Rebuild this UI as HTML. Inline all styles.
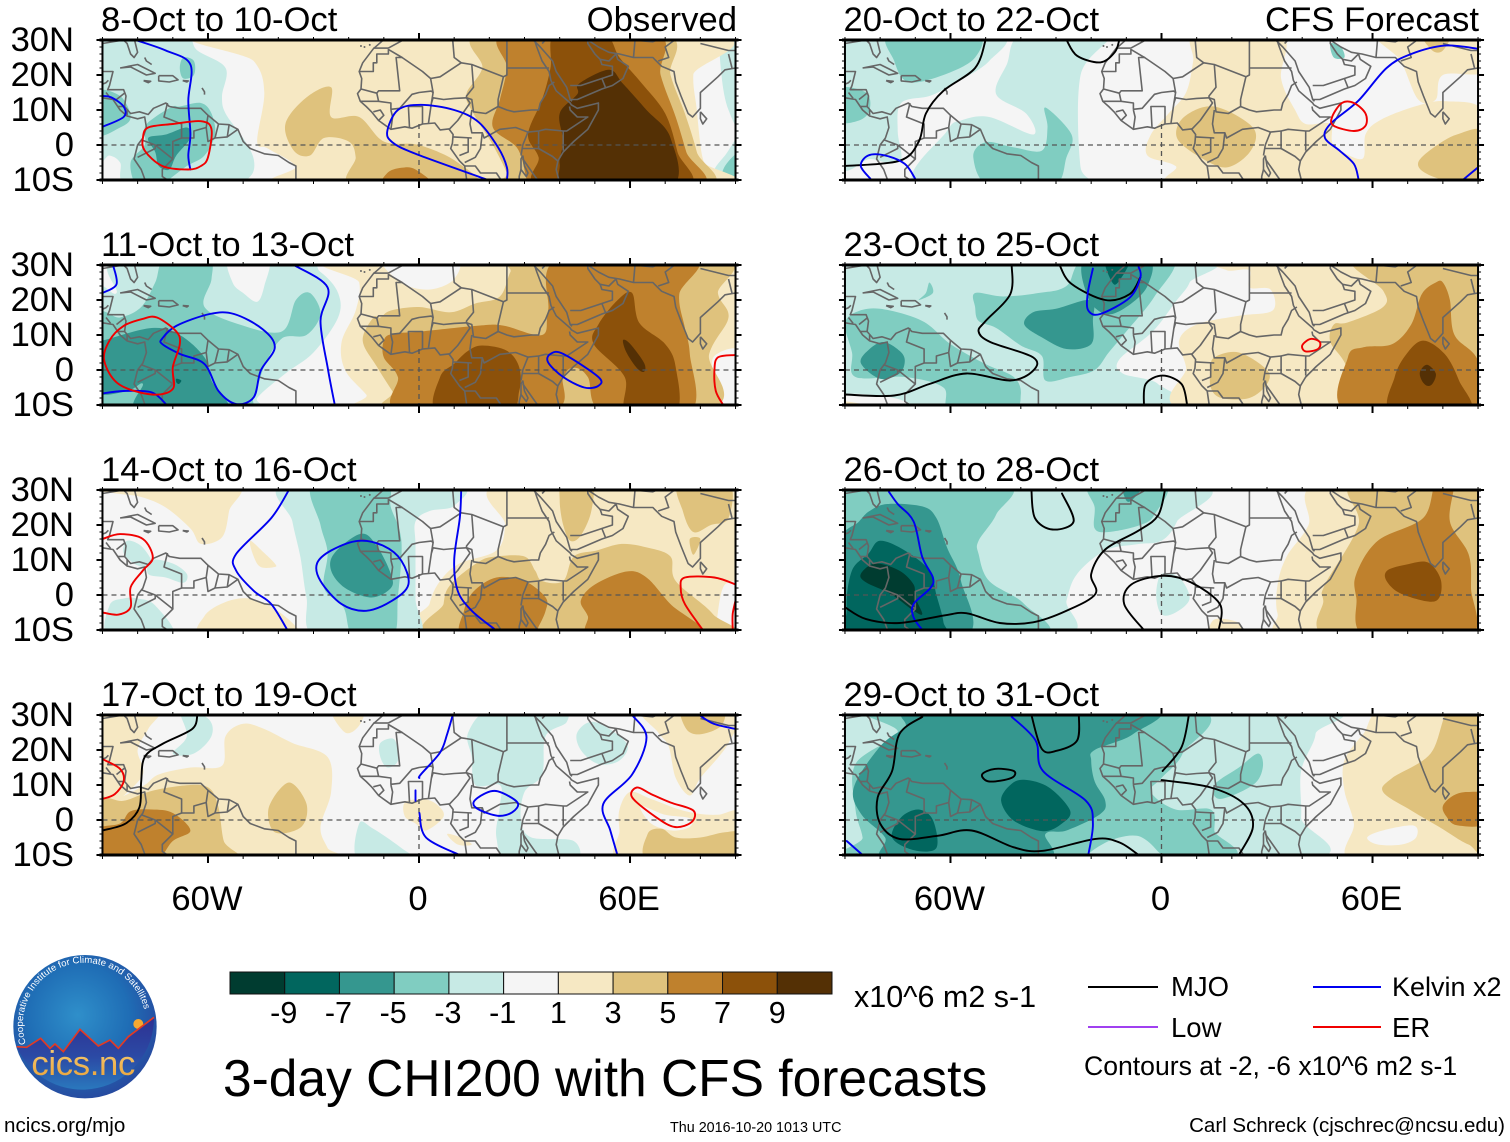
<!DOCTYPE html>
<html lang="en">
<head>
<meta charset="utf-8">
<title>3-day CHI200 with CFS forecasts</title>
<style>
html,body{margin:0;padding:0;background:#fff}
#chart{display:block;width:1510px;height:1142px}
text{font-family:"Liberation Sans",sans-serif;fill:#000}
</style>
</head>
<body>
<svg id="chart" xmlns="http://www.w3.org/2000/svg" width="1510" height="1142" viewBox="0 0 1510 1142">
<defs>
<radialGradient id="logoSky" cx="0.45" cy="0.42" r="0.6"><stop offset="0" stop-color="#2f8fca"/><stop offset="0.6" stop-color="#1f6db5"/><stop offset="1" stop-color="#27499f"/></radialGradient>
<linearGradient id="logoGold" x1="0" y1="0" x2="0" y2="1"><stop offset="0" stop-color="#f6cf78"/><stop offset="1" stop-color="#e89f35"/></linearGradient>
<linearGradient id="logoSea" x1="0" y1="0" x2="0" y2="1"><stop offset="0" stop-color="#2e3192"/><stop offset="0.55" stop-color="#2b4aa5"/><stop offset="1" stop-color="#2a78bd"/></linearGradient>
<path id="logoArc" d="M 78 312 A 185 185 0 1 1 437 230"/>
</defs>
<g id="panels"></g>
<g id="colorbar"></g>
<text x="854" y="1007" font-size="30.5">x10^6 m2 s-1</text>
<text x="223" y="1096" font-size="51.5">3-day CHI200 with CFS forecasts</text>
<g>
<line x1="1088" x2="1158" y1="987" y2="987" stroke="#000" stroke-width="2"/>
<text x="1171" y="996" font-size="27.5">MJO</text>
<line x1="1313" x2="1381" y1="987" y2="987" stroke="#0000f0" stroke-width="2"/>
<text x="1392" y="996" font-size="27">Kelvin x2</text>
<line x1="1088" x2="1158" y1="1027" y2="1027" stroke="#a040f0" stroke-width="2"/>
<text x="1171" y="1037" font-size="27.5">Low</text>
<line x1="1313" x2="1381" y1="1027" y2="1027" stroke="#f00000" stroke-width="2"/>
<text x="1392" y="1037" font-size="27.5">ER</text>
<text x="1084" y="1075" font-size="26.6">Contours at -2, -6 x10^6 m2 s-1</text>
</g>
<text x="4" y="1132" font-size="20.6">ncics.org/mjo</text>
<text x="670" y="1132" font-size="14.35">Thu 2016-10-20 1013 UTC</text>
<text x="1505" y="1132" font-size="20.5" text-anchor="end">Carl Schreck (cjschrec@ncsu.edu)</text>
<g transform="translate(0,940) scale(0.3333)">
<circle cx="255" cy="260" r="215" fill="url(#logoSky)"/>
<circle cx="415" cy="252" r="15" fill="#f7a830"/>
<path d="M50 320L80 322L122 295L150 325L165 312L190 335L240 268L295 318L330 300L355 325L385 290L462 232A215 215 0 0 1 50 320Z" fill="url(#logoSea)" stroke="none"/>
<path d="M50 320L80 322L122 295L150 325L165 312L190 335L240 268L295 318L330 300L355 325L385 290L462 232" fill="none" stroke="#e23a24" stroke-width="5"/>
<text x="94" y="405" font-size="104" style="fill:url(#logoGold)" textLength="312">cics.nc</text>
<text font-size="28" style="fill:#fff"><textPath href="#logoArc" textLength="595" lengthAdjust="spacingAndGlyphs">Cooperative Institute for Climate and Satellites</textPath></text>
</g>
</svg>
<script>
/* ---------- shared scale ---------- */
const levelValues = [-10, -8, -6, -4, -2, 0, 2, 4, 6, 8, 10];
const levelColors = ['#003c30', '#01665e', '#35978f', '#80cdc1', '#c7eae5', '#f5f5f5', '#f6e8c3', '#dfc27d', '#bf812d', '#8c510a', '#543005'];
const colorbarTicks = [-9, -7, -5, -3, -1, 1, 3, 5, 7, 9];
const latTickLabels = ['30N', '20N', '10N', '0', '10S'];
const latTicks = [30, 20, 10, 0, -10];
const lonTickLabels = ['60W', '0', '60E'];
const lonTicks = [-60, 0, 60];
const panelTitles = ['8-Oct to 10-Oct', '11-Oct to 13-Oct', '14-Oct to 16-Oct', '17-Oct to 19-Oct', '20-Oct to 22-Oct', '23-Oct to 25-Oct', '26-Oct to 28-Oct', '29-Oct to 31-Oct'];
const waveColors = {M: '#000000', K: '#0000f0', E: '#f00000'};

/* ---------- map outlines: flat lon,lat lists ---------- */
const mapLines = [
[-97,28,-94,29.5,-90,29,-84,30,-83,29,-82,26,-81,25,-80,26.5,-81,30.5],
[-97,28,-97.5,22,-95,18.5,-91,18.5,-90,21,-87,21,-88,17,-88.5,15.8,-84,15.8,-83.3,14,-83.7,11,-82,9,-79.5,9.5,-77,8.7,-75.5,10.5,-72,12,-71,11,-68,10.5,-64,10.5,-62,10.5,-60,8.5,-57,6,-54,5.8,-51.5,4.5,-50,1,-48,-1,-44,-2.5,-40,-3,-37,-5,-35,-6,-35,-11],
[-95,16,-92,14.5,-90,13.5,-87,13,-85,10,-83,8.3,-80,7.5,-78,8,-77.5,5,-78.5,2,-80,0,-81,-4,-79,-7,-77.5,-11],
[-85,22,-80,23,-75,20.5,-77.5,20,-82,22.3,-85,22],
[-74,19.8,-70,19.8,-68.5,18.6,-71,18,-74,18.3,-74,19.8],
[-78.3,18.4,-76.3,18.2,-77,17.8,-78.3,18.4],
[-67.2,18.4,-65.6,18.3,-66,18,-67.2,18.4],
[-61.7,16.3,-61,15.2,-61,14.4],
[-78,25,-77.5,24,-76,23],
[-92,14.5,-91,17,-89,17.8,-88.3,18.5],
[-89,15,-87.7,13.3],[-83.5,15,-86,13],[-83.7,11,-85.7,11],[-83,8.5,-83,10],
[-71.5,12,-72.5,8,-67.5,6,-67.5,2,-70,1,-70,-4],
[-60,8.5,-60.5,5,-64,4,-64,2,-67.5,2],
[-60.5,5,-60,1,-58,2,-54.5,2.3,-51.5,4.5],[-57,6,-58,2],[-54,5.8,-54.5,2.3],
[-79,1.5,-75,0,-70,-4,-73,-7,-73,-9,-70,-11],[-80,-3.5,-75,-1,-75,0],
[-9,31,-13,27.5,-16,23.5,-17,21,-16.3,19,-16.5,16,-17.5,14.7,-16.7,12.5,-15,11,-13.5,9.5,-11.5,7,-8,4.5,-4,5.2,-2,4.8,1,6,4.5,6.3,6,4.3,8.5,4.6,9.7,3,9.5,0.5,9,-1,11.5,-4.5,13,-6,13.7,-11],
[32.5,31,33.5,28,35,24,37,21,37.5,18.5,39,15.5,43,12,43.3,11.5,45,10.5,51,12,51,10,48,4.5,44,1,41,-2,39.5,-4.5,39,-7,40,-11],
[32.5,30,34.5,28,38,24,39,21,42,16.5,43,13,45,13,52,16,55,17,58,19,59.5,22.5,56.5,24.5,56,26,54,24,51.5,24.5,50,26,48,29,48,31],
[48,30,51,28,54,26.5,57,26,61,25,66.5,25,67,24.5,69,22.5,72.5,21,73,18,74.5,14,76.5,9,77.8,8,80,10.5,80,15,85,19.5,87,21.5,90,22,92,21,94,18,94.5,16,97,16.5],
[80,9.5,81.8,7.5,80.7,6,80,7.5,80,9.5],
[29.5,-3,30,-6,31,-8,30.5,-9,29,-7,29,-4,29.5,-3],
[-13,27.7,-8.7,27.7],[-8.7,27.7,-3.6,30.5],
[-17,21,-13,21,-13,23.5,-12,23.5,-12,26,-8.7,26,-8.7,27.3,-4.8,25,-6.5,25,-5.5,15.5,-11.5,15.5,-12,14.8,-16.5,16],
[-4.8,25,1,21,3.3,19,4,15,3.5,15.4,0,15,-2,14.5,-5.5,10.5,-8,10.2,-8,12,-11.5,12.5,-12,14.8],
[3.3,19,6,19.5,12,23.5,10,25,9.5,31],[12,23.5,15,23,24,19.5,25,20,25,31],[25,22,37,22],
[15,23,15.5,16.5,13.5,14,13.5,13.5],[4,15,3.5,11.8,4,13.5,7,13,10,13.3,13.5,13.5],
[24,19.5,22.5,13,22.5,11,19,9,15.5,9.5,15,13,13.5,13.5],
[13.5,13.5,14.5,12,11,7,8.7,4.6],
[1,6,1,11,-0,11,-3,11,-2.7,5],[2.7,6.3,3.5,11.8],[-8,4.5,-7.5,8,-8,10],
[-11.5,7,-10,8.5,-11,10,-13,9.5],[-16.7,12.5,-13.5,12.5,-11.5,12.5],
[15,10,14.5,6,15,3.5,18,3.5,18.5,2,23,4.5,27.5,5,31,3.7,34,4],
[9.7,2.3,15,2],[14,2,14,-2,11.5,-3],
[22.5,11,25,10,27,9.5,32,10,34,10,34.5,12,36,14.5,37,17,38.5,18],
[18,3.5,17.5,-1,16,-3.5,13,-5],
[34,4,36,4.5,41,4,42,4,48,8,45,8,43,10,42.8,11],
[34,4,34,1,34,-1,38,-3.3,39.5,-4.6],[41,4,41,-1.6],
[31,3.7,29.5,0,29,-3],[29,-7,28.5,-9,28.5,-11],[34,-1,30,-1,29.5,-1],
[13,-6,16,-6,17.5,-8,22,-8,24,-11],[29.5,-4,33,-9,34.5,-11],
[43,17,46,17,52,19,55,20,55,22.5,52,23,51.5,24.5],[52,19,53,16.5],[35,29,37,31],[43,13,43.5,12.5],
[61.5,31,61,25],[61,30,66.5,29.5,70,31],[68,24,71,25,70,28,74,31],
[80,29,88,27,92,27],[88,26,89,22],[92,25,92,21],[94,18,94,24,97,28],[48,30,47,31]
];
const canaryIslands = [-16.5,28.3,-15.5,28,-14,28.6];

/* ---------- panel 1: 8-Oct to 10-Oct ---------- */
const panel1Shading = [
[-2,[-68,32,-63,27,-55,22,-56,14,-55,9,-50,2,-47,-4,-48,-9,-55,-12,-82,-12,-85,-5,-88,-3,-92,-3,-92,32]],
[-2,[92,32,86,31,86,20,88,10,92,5]],
[-2,[92,3,87,-3,84,-7,83,-12,92,-12]],
[-4,[92,-2,87,-6,86,-12,92,-12]],
[-4,[-92,15,-85,14,-82,8,-85,5,-92,3]],
[-4,[-68,11,-62,12,-59,9,-58,3,-61,-3,-66,-6,-70,-9,-74,-12,-80,-12,-82,-5,-78,0,-78,5,-75,8,-70,11]],
[-4,[-67,25,-64,24,-64,20,-67,19,-68,22]],
[-6,[-77,2,-72,3,-66,5,-65,2,-69,-3,-71,-7,-74,-6,-75,-2]],
[2,[-58,32,-47,24,-44,15,-46,1,-43,-1,-35,-6,-34,-12,83,-12,81,-5,80,0,79,10,78,20,80,32]],
[4,[-25,16.5,-25,8,-17,8,-10,1,0,0,11,-5,15.5,-12,-18.5,-12,-18,-3.5,-20,1,-27,2,-31,-3,-35.6,-1.6,-38,6,-32,13.6]],
[6,[-10,-12,-9,-8,-5,-6.5,-1,-7,4,-12]],
[4,[18,32,18,22,13.5,14.6,15.5,9,21,0,25,-8,26,-12,81,-12,79,-2,75.6,9,71.5,20,69,32]],
[6,[25,32,25,22,23,13,21,5,28,-1,30.5,-9.5,31,-12,79,-12,76,-2,73,8,68.7,20,66.7,32]],
[8,[38.7,32,37.4,22,35,13,31,3,34,-3.5,35,-12,75.5,-12,73.5,-2,70,9,63,18,57,25,52.4,32]],
[10,[54,21.5,45.5,17.5,45,14.5,40,9,41,1,40,-5.5,43,-12,71.5,-12,71.5,2,64.7,10,58,17.5]]
];
const panel1Contours = [
['K',[-80.6,30,-72,27,-65,23,-65.6,12.7,-65,3,-65.6,-3,-65,-7]],
['K',[-90,5.2,-84,8,-84,11,-87.5,13.6,-90,14]],
['K',[19.6,-10,-1,-2.5,-7.6,.8,-9,4,-6,10,.5,11.5,10,10,17,6.5,22.5,-.7,25,-6.4,25,-10]],
['E',[-77,5,-70,6,-62,6.8,-59,4.5,-60,-3.5,-62,-6,-65.6,-7,-73,-6,-78,-1.6,-78.5,2],1]
];

/* ---------- panel 2: 11-Oct to 13-Oct ---------- */
const panel2Shading = [
[-2,[-92,22,-86,22,-85,32,-36,32,-28,28,-23,22,-23,15,-30,5,-38,-1,-46,-8,-46,-12,-92,-12]],
[0,[-54,32,-53,25,-50,22,-46,19.5,-44,24,-43,32]],
[-4,[-72,32,-60,32,-59,26,-61,18,-51,13,-39,11,-35,20,-31,22,-28,16,-32,10,-39,9,-44,1,-47,-8,-51,-12,-92,-12,-92,15,-85,15,-79,18,-75,25]],
[-6,[-90,8.4,-76,12,-68,10,-61,3.6,-59,-3,-55,-12,-80,-12,-78.5,-4,-83,-6,-92,-6,-92,8]],
[-8,[-69,-2.5,-67.6,-3,-68.3,-4,-69,-3.5]],
[2,[-21,32,-17,25,-18,17,-22,8,-21,0,-15,-7,-11,-12,92,-12,92,32]],
[0,[-10,32,-5,25,3,23,10,26,10,32]],
[0,[92,5,84,4,84,-3,87,-12,92,-12]],
[4,[-11,15,-8,17,0,18,9,16.5,16,19,23,21,26,28,29,32,86,32,85,22,88,15,82.5,4.6,80,-12,-3.5,-12,-7.6,-6,-12,1,-16,8.4,-13,15]],
[6,[-7.6,10.3,.5,11,17,12.7,24,12.7,35,10,36.7,17,40,32,78,32,74,21.7,75.6,12,77,4.6,77,-12,52.4,-12,48,-2,44,.7,41,-2,37,-12,-5,-12,-6,-2,-10,3.6,-10,8.4]],
[8,[18,7,25,5.5,28.5,.8,28.5,-6,25,-12,5.3,-12,6,-2,10,1.8,14,5.5]],
[8,[60.6,22,62.6,13.5,70,7.4,73,.8,73,-12,59,-12,58.5,-2,49.7,7.4,51,13,56.5,20]],
[10,[58,8.5,60,7.5,64,2,64,-.5,62,.5,59,5]]
];
const panel2Contours = [
['K',[-87,30,-86,24.5,-90,22]],
['K',[-73,9,-69,12.6,-59.5,16,-52.6,16,-44.5,11.7,-41,6.5,-45,-.2,-47,-7.8,-52,-9.7,-57,-6,-61,1.7,-68,4.6,-73,7.4],1],
['K',[-90,-6.7,-84,-6,-76,-6.4,-72,-9.7]],
['K',[-35.6,30,-26,23.6,-28,14,-26,.8,-24,-9.7]],
['K',[37.4,4.6,41,4.6,51,-2,51,-4.5,47,-5,41,-2,36.7,2.2],1],
['E',[-78.6,14.6,-74.5,15,-69,11,-68,7.4,-70,.8,-70,-5.4,-76,-7,-85.4,-4,-89.5,2.7,-88,8.4,-84,12.6],1],
['E',[90,4.3,85,3.6,84,-.2,84.4,-6,86.5,-10]]
];

/* ---------- panel 3: 14-Oct to 16-Oct ---------- */
const panel3Shading = [
[2,[-92,32,-53,32,-54,24,-56,16.5,-62,14.6,-65,19,-72,25,-79,28,-86,29,-92,30]],
[2,[-48,15.5,-44,12,-41,9,-41,8,-45,8,-47,11]],
[2,[-61,-12,-61,-6,-55,-2,-48,-1,-41,-4,-35,-9,-34,-12]],
[2,[24,32,24.5,20,22,12.7,11.5,9,6,4,3,-2.5,2,-12,92,-12,92,32]],
[0,[87,3,92,2,92,-12,85,-12,85,-5]],
[4,[41,32,49,32,49,24,46,17,43,15.5,41,20,40,27]],
[4,[74,32,88,32,88,22,83,20,78,18,75,24]],
[4,[77,16,80,16,78,11.5]],
[4,[9,3,17,9.5,22,11,30,11,33,7,35,4,41,4,44,11,50.5,12.7,57.6,14.6,64.7,13.6,71.5,11,73,4,83.5,-5.4,85,-12,6.6,-12,7,-2.5]],
[6,[22,5,30,4,36,-.7,36,-4.5,34,-9,32,-12,12.8,-12,12.8,-4.5,15.5,1]],
[6,[59,6.7,64.7,5,71.5,-2.6,81,-12,50,-12,48,-6,46,-1.6,50,3]],
[-2,[-37.6,32,-36,21,-33.7,10.7,-32,-.7,-29,-12,-1,-12,-1,-1,-1,14,-1,21,3,24,10,25.5,10,32]],
[-4,[-30,32,-28,20,-26,12,-27,2,-21.5,-3.5,-18.5,-12,-7.6,-12,-6,-.7,-5,15.5,-8,25,-10,32]],
[-6,[-16.5,17.5,-12,14,-8,6,-8,2,-13.5,-.7,-21,2,-25,7,-24,12]],
[-2,[-83,15.5,-79,14,-76,9.5,-78,8,-81,9,-84,12]],
[-2,[-76,10,-70,9,-66,6,-67,3.5,-72,5,-77,6]],
[-2,[-88,-12,-88,-3,-84,-1,-80,-1,-75,-3,-70,-12]]
];
const panel3Contours = [
['E',[-90,16,-85,17.4,-78.5,16,-75.7,10.7,-78.5,7,-82,2.2,-82,-3.5,-85.4,-5.6,-90,-5]],
['E',[90,3,84,5,75.6,5,74.4,2,75.6,-2.6,80.5,-9.7]],
['E',[90,-1.6,89.2,-5.4,89.2,-9.7]],
['K',[-37,30,-42,22,-52,11.7,-52,7,-47,1.2,-42,-2.6,-37.6,-9.7]],
['K',[-17.2,15.5,-10,14,-5,9.8,-3,3,-7.6,-1.6,-15,-4.5,-22,-2.6,-28,4,-29,9,-25,12.7],1],
['K',[12,30,11.6,22,10,10,11,1.2,15,-4.5,21.4,-9.7]]
];

/* ---------- panel 4: 17-Oct to 19-Oct ---------- */
const panel4Shading = [
[2,[-92,32,-74,32,-77,26,-80,20,-79,12,-92,4]],
[2,[-92,5,-85,6.5,-78,10,-74,13,-65,15,-56,15.5,-55,24,-50,27.5,-44,26,-36,22,-26,18,-25,8,-28,-2,-26,-8,-24,-12,-92,-12]],
[2,[-25,32,-16,32,-17,27,-21,25]],
[4,[-92,5.5,-84,5.5,-75.7,8.4,-65,10,-59.5,9,-57,3.6,-55.5,-6,-52.6,-12,-92,-12]],
[6,[-92,-3,-85,-1,-82,2.5,-76,3,-70,2,-65,-3,-70,-6,-76,-12,-92,-12]],
[4,[-37,10.7,-32,4.6,-33.5,-2,-41,-3.5,-42.7,3.6]],
[2,[64,32,68,25,71,21,73,12,77,7,80,12,88,22,90,32]],
[4,[75,32,76,26,80,24.5,86,27,86,32]],
[2,[57,3,60,8,66,6,74,3,80,1.7,85,1.5,92,2,92,-12,58,-12,57,-3]],
[0,[63,4,70,1.5,77,.5,77,-2,72,-3,66,-1]],
[4,[66,-12,65,-4,69,-2.5,73,-5,80,-5,87,-3.5,92,-4,92,-12]],
[2,[-4,5,1,6,5,4.5,7,1,2,-3,-1,-1,-4,1]],
[2,[8,-4,12,-5,15,-7,11,-7]],
[-2,[-68,32,-60,29,-59,24,-64,19,-70,19,-66,24]],
[-2,[-17,-1,-13,-2.5,-5,-8,-1,-12,-17,-12]],
[-2,[-11,22,-7,23,-6,17,-9,15,-11,18]],
[-2,[14,25,21,32,40,32,42,28,36,24,35,13,30,8,29,0,32,-5,44,-6,44,-12,26,-12,22,-5,23,4,23,10,16,10,15,18]],
[-2,[45,25,50,28,59,22,57,17,51,16,46,20]]
];
const panel4Contours = [
['M',[-63,30,-64.5,26,-73,21.7,-78,18,-79,11,-79.5,3.6,-83.4,-1,-90,-3]],
['E',[-90,17.4,-85,14.6,-84,11,-86.5,7.4,-90,6]],
['E',[62,9.3,66,7.4,71.5,5,78,2.7,77.5,-.6,72.8,-2,67.4,.8,60.6,6.5],1],
['K',[9.6,30,8,24.5,6,19.3,.5,13,.1,12]],
['K',[-1,8.5,-1,6.5,-1,5.5]],
['K',[.1,2,2,-5,11.5,-10]],
['K',[22.4,8.2,28,5,26.5,2.2,22.4,1.2,17,3,15.5,5,18.4,7.4],1],
['K',[60.6,30,64.7,23.6,60.6,13,52.4,4.6,54.4,-3,56.4,-10]],
['K',[79.7,30,83.8,27.5,90,26]]
];

/* ---------- panel 5: 20-Oct to 22-Oct ---------- */
const panel5Shading = [
[-2,[-92,32,-47,32,-49,24,-60,17,-66,14,-74,12,-75,4,-74,-4,-78,-5,-83,-4,-92,-5]],
[-2,[-39,32,-44,23,-47,14.5,-38.5,9,-36.5,3,-49,8,-57,7,-61,4,-69,-12,-19,-12,-23,-6.4,-23,20,-15,32]],
[-4,[-77,32,-53,32,-53,25,-62,20,-72,18,-76,24]],
[-4,[-92,16,-84,15,-83,10,-86,7,-92,7]],
[-4,[-33,10.7,-25.6,3,-27,-3.5,-31,-12,-48.7,-12,-53.5,-3.5,-50,.8,-42,-.7,-34,-1.6,-32.4,5]],
[-4,[48,29,51,28,52,25,49,25]],
[2,[10,32,34,32,34,19,38,10,41,6,48,6,49,0,57,-4,58,3,62,7,72,11,81,12.5,92,9,92,-12,8,-12,4,-6,-4,-3,-3,3,2,9,7,15,9,24]],
[2,[62,32,68,24,73,13,78,13,80,20,92,21,92,32]],
[4,[15,11,26,5,25.4,-1.6,18.6,-6.4,11,-3.5,4.4,2,6.4,8]],
[4,[92,3.5,84,3,77,-1,73,-5,75,-8,82,-10.5,92,-12]],
[4,[74,32,82,32,80,27,77,27]]
];
const panel5Contours = [
['M',[-50,30,-53,22,-62,15.5,-67,9,-69,1,-74.5,-4.5,-90,-6]],
['M',[-27,30,-24,25.5,-17.4,23.6,-13.3,26.5,-12,30]],
['K',[-82.7,-9.7,-85.5,-6,-83.4,-3,-78.6,-3,-73,-5.4,-70,-9.7]],
['K',[90,27.5,80.5,28.4,71,26,64,22,56,12.7,48,6,46.5,2,50.6,-1.6,54.7,-5.4,56,-9.7]],
['K',[86,-9.7,90,-6.4]],
['E',[51.3,12,54.7,12,58,9,58,5.5,54.7,4,49,5.5,48.5,8],1]
];

/* ---------- panel 6: 23-Oct to 25-Oct ---------- */
const panel6Shading = [
[-2,[-92,32,9,32,8,25,4,19.5,-2.5,11,-12,3,-11,-1,-1,-4,0,-12,-92,-12]],
[0,[-92,-7,-76,-8,-70,-12,-92,-12]],
[2,[-92,-9,-84,-10,-82,-12,-92,-12]],
[-4,[-80,17.5,-68,14,-60,7.4,-50,1.7,-42,-2,-40,-7,-43,-12,-60,-12,-62,-5,-73,-2,-87,-2,-88,5,-90,13,-87,16.5]],
[-4,[-65,22,-66,25,-67,22,-69,20]],
[-4,[-53,22,-45,21,-35,22,-27,24,-21,32,3,32,-2,21,-10,11,-15,5,-19,0,-26,-2,-33,-3,-34,4,-40,7,-47,12,-52,14,-53,18]],
[-6,[-30,17.5,-20,20,-19.5,14,-20,7.4,-27,6,-34,9.3,-39,13,-36.5,16.5]],
[-6,[-21.5,32,-4,32,-4,24,-10,18,-16,16,-21,21]],
[-8,[-16,32,-9,32,-12,25.5,-14,25]],
[-6,[-79,8,-74.5,5.5,-73,2.7,-74.5,-1,-80,-2.5,-85.5,2,-83,6]],
[2,[9,-12,7,.8,5,8.4,10,13,22,15.5,31.6,17,31,23,25,23.6,25,28.5,18.6,28.5,18.6,32,92,32,92,-12]],
[4,[55,32,63,22.7,63,18,53,13.6,49,13,48,8,52.6,.8,54,-12,92,-12,92,32]],
[4,[15,3.6,22,5,30,0,30,-4,25,-8,17,-8,14,-5,14,0]],
[6,[80,25,82,20,83.3,10,90,2.7,92,-12,53,-12,53,3.6,57.4,6.5,65.6,7.4,71,13,74,21.7,78,25]],
[8,[74.4,8.4,80.5,4.6,84.6,-3,87.3,-12,65.6,-12,66.3,-2,69.7,4.6]],
[10,[75.5,1.5,78,-1,77,-4,75.5,-4.5,74,-3,73.5,-.5]]
];
const panel6Contours = [
['M',[-42.6,30,-43,21.7,-50,14,-52,11,-48.7,8,-36.5,3.6,-36.5,-.2,-43,-3,-55.5,-1,-66,-4,-76,-7.3,-90,-7]],
['M',[-29,30,-25.6,24.6,-16,20,-9,21.7,-6,26.5]],
['M',[-5,-10,-4.5,-4,.3,-1.6,5.7,-4,7.3,-10]],
['K',[-19.5,29,-21,21.7,-20.8,17,-17.4,16,-9,20.7,-6,26.5,-6.5,29.5]],
['E',[42.4,8.9,45,8,44.5,6,41,5.3,40,7],1]
];

/* ---------- panel 7: 26-Oct to 28-Oct ---------- */
const panel7Shading = [
[-2,[8,32,4.4,21,0,15.5,-7,14.5,-16,12.7,-24,6,-27,-1.6,-29,-12,-92,-12,-92,32]],
[-2,[0,6,5,5,8,-1,4,-5,0,-5.5,-1.5,0]],
[-4,[-45,32,-47,23,-52,15.5,-52,11.7,-49,4,-39,-2.6,-35,-12,-92,-12,-92,32]],
[-4,[-20,32,1,32,-2,23,-6,20,-15,18,-19,19,-19,25]],
[-6,[-11,32,-5,32,-8,27.5,-10,27]],
[-6,[-78,26,-68,25.3,-64,22,-61,13.6,-57,4,-56,-12,-92,-12,-92,14,-86,21,-83,24]],
[-8,[-80,15.5,-73,12.7,-66,7,-64,0,-62,-7.7,-62.5,-12,-87,-12,-89.5,-3.5,-88,7,-83.4,11.7]],
[-10,[-85.5,6,-81.4,9,-74.6,7,-70.5,3,-70,-.7,-68,-5.4,-70.5,-4.5,-77,.3,-84,3.6]],
[2,[45,32,41.8,20,35.6,11,33,3,33,-5.4,37,-12,92,-12,92,32]],
[4,[55,32,56,20,46.5,3,46,-1.6,48,-12,92,-12,92,32]],
[6,[78,32,74.4,22,61.5,15.5,55.4,6,55.4,-.7,58.5,-12,87.5,-12,88,2,87.3,11.7,82,21,83,32]],
[8,[64.2,7,69.7,8.7,75.8,9.3,79.5,4,77.8,-1.8,68.3,.3,64,4]],
[2,[15,-7,22,-8,22,-12,14,-12]]
];
const panel7Contours = [
['K',[-77.5,29.5,-75,26,-70.5,21,-68,10.8,-65,5,-65.7,2,-70.5,-2.6,-70.5,-6.4,-68,-10]],
['M',[-90,-3.5,-84,-6.9,-74.5,-8,-62,-5.9,-55.5,-5.2,-46,-8,-36.5,-7.8,-27,-4.5,-18.8,.3,-20,6,-16,13,-6.5,18.4,-1,22.7,1,30]],
['M',[-37,30,-36,22,-31,18.7,-25,21,-28.3,29]],
['M',[-5,-10,-10.6,-2.6,-8.6,3,.3,5.5,8.4,3.6,16.6,-2.6,16.3,-10]]
];

/* ---------- panel 8: 29-Oct to 31-Oct ---------- */
const panel8Shading = [
[-2,[-92,32,41,32,43.8,24.6,39.7,14,39.7,.8,38,-12,-92,-12]],
[-4,[-80,32,8,32,6,19,0,12,-3,8,4,3,14,3,15,-3,14,-12,-85,-12,-85,-5,-87,3,-87,16,-75,25]],
[-2,[-21,-12,-16,-6.5,-7,-4.5,-1,-9,0,-12]],
[-4,[27.5,19,28.8,15,26,10,16.6,6,15,10,22,15]],
[-6,[-68,32,-4,32,-8,24.6,-19,20,-20,17,-19,11,-16,5.5,-17.4,1.7,-27,-3,-33,-4,-33.7,-12,-77,-12,-78.6,-5,-85.4,1.7,-87.5,9.3,-80,21,-73,26.5]],
[-8,[-39,11.5,-32,9.3,-26,2.7,-28.3,-1,-33.7,-3.2,-42,-.2,-45.6,5.5,-43,10]],
[-8,[-69,3,-65,0,-64,-8,-70.5,-8.6,-76.6,-5,-74,.8]],
[2,[64,32,57.4,24.6,52,17,52,8.4,54.7,-1,54.7,-12,92,-12,92,32]],
[0,[58.5,-5,62.9,-3,71.7,-1.6,72.4,-5,68.3,-7,61.5,-7]],
[4,[82,32,76.5,19,65.6,12,63,8,71,2.7,79,-2,87.3,-7,92,-7,92,32]],
[6,[87,8,92,7,92,-1,84,-1.5,81,1,80,4,83,7]]
];
const panel8Contours = [
['M',[-68,29.5,-74.5,24.6,-76.6,14,-80.7,6.5,-80,-1,-74.5,-5.4,-63.7,-4.5,-54,-3,-42,-7.8,-33.7,-8.8,-18.8,-5.4,-12,-6.4,-6.5,-10]],
['M',[-37,30,-34,20.3,-29.7,19.8,-24,22.7,-23.5,30]],
['M',[-51,13,-47.4,14.6,-42,14,-42.7,12,-49,11],1],
['M',[7.8,30,5.7,20.8,.3,14]],
['M',[0,11.4,14,9.3,23.4,4.6,26,-2,22,-10]],
['K',[-42.6,29.5,-35.8,22.7,-33.7,14,-21.5,5.5,-19.5,-1,-20.8,-10]],
['K',[-89.5,-6,-85,-10]]
];

const panelShadingSets = [panel1Shading, panel2Shading, panel3Shading, panel4Shading, panel5Shading, panel6Shading, panel7Shading, panel8Shading];
const panelContourSets = [panel1Contours, panel2Contours, panel3Contours, panel4Contours, panel5Contours, panel6Contours, panel7Contours, panel8Contours];

/* ---------- axis functions ---------- */
const NS = 'http://www.w3.org/2000/svg';
const rowTops = [40, 265, 490, 715];
const colZeroX = [419, 1161.5];
const pxPerLon = 3.517;
const pxPerLat = 3.5;
function xAxis(col, lon) { return colZeroX[col] + lon * pxPerLon; }
function yAxis(row, lat) { return rowTops[row] + (30 - lat) * pxPerLat; }
function levelColor(v) { return levelColors[levelValues.indexOf(v)]; }
function mk(tag, attrs, parent) {
  const el = document.createElementNS(NS, tag);
  for (const k in attrs) el.setAttribute(k, attrs[k]);
  parent.appendChild(el);
  return el;
}
function toPoints(flat, col, row) {
  const p = [];
  for (let i = 0; i < flat.length; i += 2) p.push([xAxis(col, flat[i]), yAxis(row, flat[i + 1])]);
  return p;
}
function smoothPath(p, closed) {
  const n = p.length;
  const at = i => closed ? p[(i + n) % n] : p[Math.max(0, Math.min(n - 1, i))];
  let d = 'M' + p[0][0].toFixed(1) + ' ' + p[0][1].toFixed(1);
  const segs = closed ? n : n - 1;
  for (let i = 0; i < segs; i++) {
    const a = at(i - 1), b = at(i), c = at(i + 1), e = at(i + 2);
    const c1x = b[0] + (c[0] - a[0]) / 6, c1y = b[1] + (c[1] - a[1]) / 6;
    const c2x = c[0] - (e[0] - b[0]) / 6, c2y = c[1] - (e[1] - b[1]) / 6;
    d += 'C' + c1x.toFixed(1) + ' ' + c1y.toFixed(1) + ' ' + c2x.toFixed(1) + ' ' + c2y.toFixed(1) + ' ' + c[0].toFixed(1) + ' ' + c[1].toFixed(1);
  }
  return d + (closed ? 'Z' : '');
}
function straightPath(p) {
  return 'M' + p.map(q => q[0].toFixed(1) + ' ' + q[1].toFixed(1)).join('L');
}

/* ---------- draw ---------- */
const panelsRoot = document.getElementById('panels');
const defs = document.querySelector('defs');
panelTitles.forEach(function (title, idx) {
  const col = idx < 4 ? 0 : 1;
  const row = idx % 4;
  const x0 = xAxis(col, -90), x1 = xAxis(col, 90);
  const y0 = yAxis(row, 30), y1 = yAxis(row, -10);
  const g = mk('g', {}, panelsRoot);
  
  

  const clip = mk('clipPath', {id: 'clip' + idx}, defs);
  mk('rect', {x: x0, y: y0, width: x1 - x0, height: y1 - y0}, clip);

  const plot = mk('g', {'clip-path': 'url(#clip' + idx + ')'}, g);
  
  
  const bg = mk('rect', {x: x0, y: y0, width: x1 - x0, height: y1 - y0, fill: levelColor(0)}, plot);
  
  

  panelShadingSets[idx].forEach(function (s) {
    const path = mk('path', {d: smoothPath(toPoints(s[1], col, row), true), fill: levelColor(s[0])}, plot);
    
    
  });

  mapLines.forEach(function (flat) {
    const path = mk('path', {d: straightPath(toPoints(flat, col, row)), fill: 'none', stroke: '#666', 'stroke-width': 1.6, 'stroke-linejoin': 'round'}, plot);
    
    
  });
  for (let i = 0; i < canaryIslands.length; i += 2) {
    const dot = mk('circle', {cx: xAxis(col, canaryIslands[i]), cy: yAxis(row, canaryIslands[i + 1]), r: 1, fill: '#666'}, plot);
    
    
  }

  const eq = mk('line', {x1: x0, x2: x1, y1: yAxis(row, 0), y2: yAxis(row, 0), stroke: '#555', 'stroke-width': 1.3, 'stroke-dasharray': '5 4'}, plot);
  
  
  const mer = mk('line', {x1: xAxis(col, 0), x2: xAxis(col, 0), y1: yAxis(row, 6), y2: y1, stroke: '#555', 'stroke-width': 1.3, 'stroke-dasharray': '5 4'}, plot);
  
  

  panelContourSets[idx].forEach(function (c) {
    const path = mk('path', {d: smoothPath(toPoints(c[1], col, row), !!c[2]), fill: 'none', stroke: waveColors[c[0]], 'stroke-width': 1.9, 'stroke-linecap': 'round'}, plot);
    
    
  });

  /* frame */
  const frame = mk('g', {stroke: '#000', fill: 'none'}, g);
  
  
  mk('line', {x1: x0 - 3, x2: x1 + 3, y1: y0, y2: y0, 'stroke-width': 3}, frame);
  mk('line', {x1: x0 - 3, x2: x1 + 3, y1: y1, y2: y1, 'stroke-width': 3}, frame);
  mk('line', {x1: x0, x2: x0, y1: y0, y2: y1, 'stroke-width': 2}, frame);
  mk('line', {x1: x1, x2: x1, y1: y0, y2: y1, 'stroke-width': 2}, frame);
  for (let lon = -90; lon <= 90; lon += 10) {
    const major = lonTicks.indexOf(lon) >= 0;
    const xt = xAxis(col, lon);
    mk('line', {x1: xt, x2: xt, y1: y0 - (major ? 7 : 3), y2: y0, 'stroke-width': major ? 2 : 1}, frame);
    mk('line', {x1: xt, x2: xt, y1: y1, y2: y1 + (major ? 8 : 4), 'stroke-width': major ? 2 : 1}, frame);
  }
  for (let lat = -10; lat <= 30; lat += 2) {
    const major = latTicks.indexOf(lat) >= 0;
    const yt = yAxis(row, lat);
    mk('line', {x1: x0 - (major ? 6 : 3), x2: x0, y1: yt, y2: yt, 'stroke-width': major ? 2 : 1}, frame);
    mk('line', {x1: x1, x2: x1 + (major ? 6 : 3), y1: yt, y2: yt, 'stroke-width': major ? 2 : 1}, frame);
  }

  /* labels */
  const t = mk('text', {x: x0 - 1.5, y: y0 - 9, 'font-size': 34.6}, g);
  t.textContent = title;
  
  
  if (col === 0) {
    latTicks.forEach(function (lat, i) {
      const lab = mk('text', {x: 74, y: yAxis(row, lat) + 11, 'font-size': 34.6, 'text-anchor': 'end'}, g);
      lab.textContent = latTickLabels[i];
      
      
    });
  }
  if (row === 3) {
    lonTicks.forEach(function (lon, i) {
      const lab = mk('text', {x: xAxis(col, lon) - 1, y: 910, 'font-size': 34.6, 'text-anchor': 'middle'}, g);
      lab.textContent = lonTickLabels[i];
      
      
    });
  }
});

const obs = mk('text', {x: 737, y: 31, 'font-size': 34.7, 'text-anchor': 'end'}, panelsRoot);
obs.textContent = 'Observed';


const fc = mk('text', {x: 1479, y: 31, 'font-size': 34.7, 'text-anchor': 'end'}, panelsRoot);
fc.textContent = 'CFS Forecast';



/* colorbar */
const cbRoot = document.getElementById('colorbar');
const cbLeft = 230, cbWidth = 602, cbTop = 972, cbHeight = 22;
function cbX(i) { return cbLeft + i * cbWidth / levelColors.length; }
levelColors.forEach(function (color, i) {
  const box = mk('rect', {x: cbX(i), y: cbTop, width: cbWidth / levelColors.length, height: cbHeight, fill: color, stroke: '#111', 'stroke-width': 1}, cbRoot);
  
  
});
colorbarTicks.forEach(function (v, i) {
  const lab = mk('text', {x: cbX(i + 1) - (v < 0 ? 1 : 0), y: 1023, 'font-size': 30.5, 'text-anchor': 'middle'}, cbRoot);
  lab.textContent = String(v);
  
  
});
</script>
</body>
</html>
